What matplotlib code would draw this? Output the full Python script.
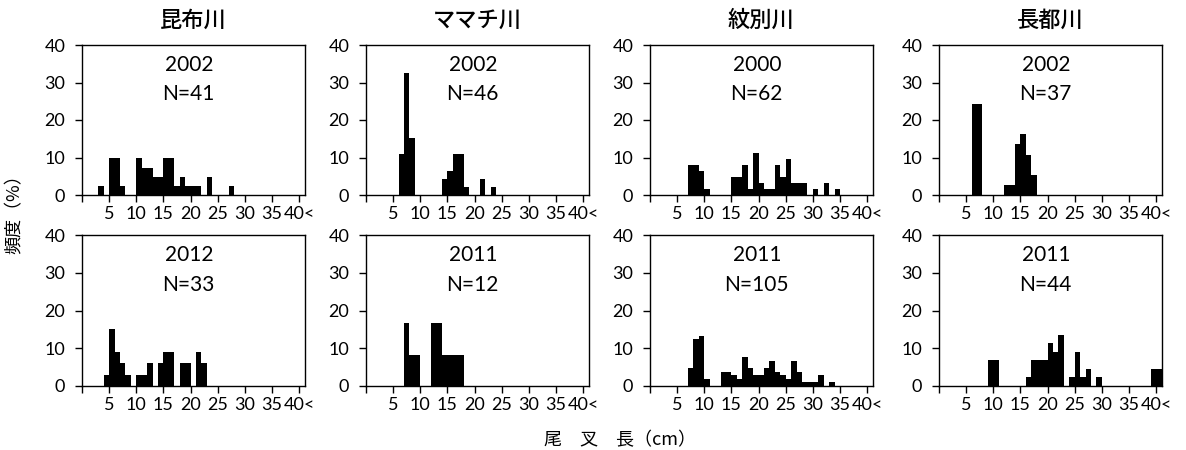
import matplotlib
matplotlib.use("Agg")
import matplotlib.pyplot as plt
import numpy as np

plt.rcParams['font.family'] = ['Lato', 'Noto Sans CJK JP', 'DejaVu Sans']

# ── Data ─────────────────────────────────────────────────────────────────────
# fork length bins of 1 cm, bin k = [k, k+1) cm, k = 0..40 (last bins = "40<")
n_bins = 41

rivers = ["昆布川", "ママチ川", "紋別川", "長都川"]
years_top = ["2002", "2002", "2000", "2002"]
n_top = [41, 46, 62, 37]
years_bottom = ["2012", "2011", "2011", "2011"]
n_bottom = [33, 12, 105, 44]

# frequency (%) per bin
kombu_2002 = [0, 0, 0, 2.4, 0, 9.8, 9.8, 2.4, 0, 0,
              9.8, 7.3, 7.3, 4.9, 4.9, 9.8, 9.8, 2.4, 4.9, 2.4,
              2.4, 2.4, 0, 4.9, 0, 0, 0, 2.4, 0, 0,
              0, 0, 0, 0, 0, 0, 0, 0, 0, 0, 0]
mamachi_2002 = [0, 0, 0, 0, 0, 0, 10.9, 32.6, 15.2, 0,
                0, 0, 0, 0, 4.3, 6.5, 10.9, 10.9, 2.2, 0,
                0, 4.3, 0, 2.2, 0, 0, 0, 0, 0, 0,
                0, 0, 0, 0, 0, 0, 0, 0, 0, 0, 0]
mombetsu_2000 = [0, 0, 0, 0, 0, 0, 0, 8.1, 8.1, 6.5,
                 1.6, 0, 0, 0, 0, 4.8, 4.8, 8.1, 1.6, 11.3,
                 3.2, 1.6, 1.6, 8.1, 4.8, 9.7, 3.2, 3.2, 3.2, 0,
                 1.6, 0, 3.2, 0, 1.6, 0, 0, 0, 0, 0, 0]
osatsu_2002 = [0, 0, 0, 0, 0, 0, 24.3, 24.3, 0, 0,
               0, 0, 2.7, 2.7, 13.5, 16.2, 10.8, 5.4, 0, 0,
               0, 0, 0, 0, 0, 0, 0, 0, 0, 0,
               0, 0, 0, 0, 0, 0, 0, 0, 0, 0, 0]

kombu_2012 = [0, 0, 0, 0, 3.0, 15.2, 9.1, 6.1, 3.0, 0,
              3.0, 3.0, 6.1, 0, 6.1, 9.1, 9.1, 0, 6.1, 6.1,
              0, 9.1, 6.1, 0, 0, 0, 0, 0, 0, 0,
              0, 0, 0, 0, 0, 0, 0, 0, 0, 0, 0]
mamachi_2011 = [0, 0, 0, 0, 0, 0, 0, 16.7, 8.3, 8.3,
                0, 0, 16.7, 16.7, 8.3, 8.3, 8.3, 8.3, 0, 0,
                0, 0, 0, 0, 0, 0, 0, 0, 0, 0,
                0, 0, 0, 0, 0, 0, 0, 0, 0, 0, 0]
mombetsu_2011 = [0, 0, 0, 0, 0, 0, 0, 4.8, 12.4, 13.3,
                 1.9, 0, 0, 3.8, 3.8, 2.9, 1.9, 7.6, 4.8, 2.9,
                 2.9, 4.8, 6.7, 3.8, 2.9, 1.9, 6.7, 3.8, 1.0, 1.0,
                 1.0, 2.9, 0, 1.0, 0, 0, 0, 0, 0, 0, 0]
osatsu_2011 = [0, 0, 0, 0, 0, 0, 0, 0, 0, 6.8,
               6.8, 0, 0, 0, 0, 0, 2.3, 6.8, 6.8, 6.8,
               11.4, 9.1, 13.6, 0, 2.3, 9.1, 2.3, 4.5, 0, 2.3,
               0, 0, 0, 0, 0, 0, 0, 0, 0, 4.5, 4.5]

top_series = [kombu_2002, mamachi_2002, mombetsu_2000, osatsu_2002]
bottom_series = [kombu_2012, mamachi_2011, mombetsu_2011, osatsu_2011]

xtick_pos = [0, 5, 10, 15, 20, 25, 30, 35, 40]
xtick_labels = ["", "5", "10", "15", "20", "25", "30", "35", "40<"]
ytick_pos = [0, 10, 20, 30, 40]

# ── Figure ───────────────────────────────────────────────────────────────────
W, H = 1186, 450
fig = plt.figure(figsize=(W / 100, H / 100), dpi=100)
fig.patch.set_facecolor("white")

lefts = [82, 366, 650, 939]
ax_w = 222.5
rows = [(45, 195), (235, 386)]   # (top, bottom) in pixels


def panel(ax, values, year, n):
    x = np.arange(n_bins)
    ax.bar(x, values, width=1.0, align="edge", color="black", linewidth=0)
    ax.set_xlim(0, 41)
    ax.set_ylim(0, 40)
    ax.set_xticks(xtick_pos)
    ax.set_xticklabels(xtick_labels)
    ax.set_yticks(ytick_pos)
    ax.tick_params(axis="both", direction="out", length=5, width=1.0,
                   color="black", labelsize=13)
    ax.tick_params(axis="y", pad=7)
    ax.tick_params(axis="x", pad=3)
    for s in ax.spines.values():
        s.set_linewidth(1.0)
        s.set_color("black")
    ax.text(0.48, 0.87, year, transform=ax.transAxes, ha="center", va="center",
            fontsize=15)
    ax.text(0.48, 0.67, f"N={n}", transform=ax.transAxes, ha="center",
            va="center", fontsize=15)


for r, (series, years, ns) in enumerate([(top_series, years_top, n_top),
                                          (bottom_series, years_bottom, n_bottom)]):
    top, bottom = rows[r]
    for c in range(4):
        ax = fig.add_axes([lefts[c] / W, 1 - bottom / H, ax_w / W, (bottom - top) / H])
        panel(ax, series[c], years[c], ns[c])
        if r == 0:
            fig.text((lefts[c] + ax_w / 2) / W, 1 - 20 / H, rivers[c],
                     ha="center", va="center", fontsize=16, weight="medium",
                     family=["Noto Sans CJK JP", "DejaVu Sans"])

fig.text(15 / W, 1 - 210 / H, "頻度（%）", rotation=90, ha="center", va="center",
         fontsize=13, family=["Noto Sans CJK JP", "DejaVu Sans"])
fig.text(620 / W, 1 - 440 / H, "尾　叉　長（cm）", ha="center", va="center",
         fontsize=13, family=["Noto Sans CJK JP", "DejaVu Sans"])

fig.savefig("out.png", dpi=100, facecolor="white")
